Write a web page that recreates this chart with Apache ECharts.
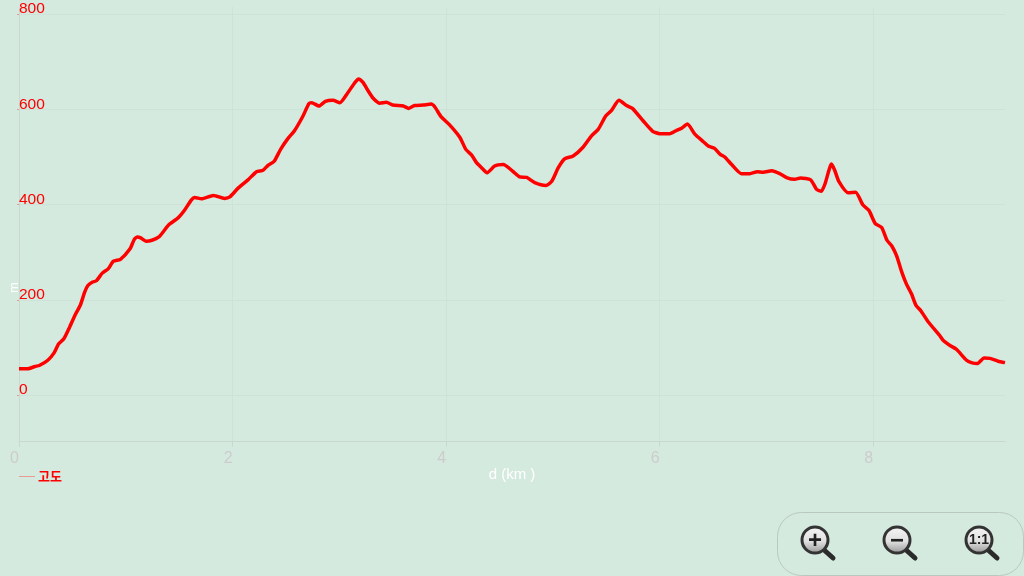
<!DOCTYPE html>
<html>
<head>
<meta charset="utf-8">
<title>고도</title>
<script src="https://cdn.jsdelivr.net/npm/echarts@6/dist/echarts.min.js"></script>
<style>
  html, body { margin: 0; padding: 0; background: #d5eadf; }
  #chart { width: 1024px; height: 576px; }
</style>
</head>
<body>
<div id="chart"></div>
<script>
const distanceKm = [
  0, 0.08, 0.15, 0.19, 0.27, 0.33, 0.37, 0.42, 0.475, 0.53, 0.575, 0.615, 0.645, 0.685, 0.725,
  0.78, 0.835, 0.885, 0.95, 1.04, 1.08, 1.11, 1.14, 1.19, 1.245, 1.31, 1.355, 1.405, 1.49, 1.55,
  1.615, 1.645, 1.71, 1.82, 1.925, 1.975, 2.05, 2.145, 2.225, 2.285, 2.335, 2.39, 2.45, 2.52, 2.58,
  2.66, 2.715, 2.74, 2.81, 2.87, 2.94, 3.005, 3.08, 3.145, 3.18, 3.22, 3.27, 3.315, 3.38, 3.44,
  3.5, 3.6, 3.65, 3.705, 3.785, 3.86, 3.895, 3.955, 4.035, 4.13, 4.185, 4.24, 4.285, 4.33, 4.385,
  4.455, 4.535, 4.63, 4.69, 4.755, 4.83, 4.935, 4.99, 5.05, 5.11, 5.19, 5.285, 5.36, 5.425, 5.495,
  5.55, 5.62, 5.69, 5.745, 5.845, 5.935, 6, 6.095, 6.16, 6.21, 6.26, 6.33, 6.41, 6.455, 6.515,
  6.565, 6.61, 6.675, 6.765, 6.845, 6.915, 6.97, 7.05, 7.125, 7.195, 7.265, 7.32, 7.415, 7.47, 7.515,
  7.55, 7.61, 7.64, 7.68, 7.765, 7.835, 7.905, 7.96, 8.02, 8.08, 8.13, 8.175, 8.22, 8.27, 8.31,
  8.36, 8.4, 8.45, 8.515, 8.62, 8.655, 8.72, 8.78, 8.875, 8.92, 8.975, 9.04, 9.095, 9.17, 9.235
]
const elevationM = [
  55, 55, 60, 62, 73, 89, 107, 118, 143, 170, 189, 216, 230, 237, 240,
  256, 265, 281, 285, 307, 327, 332, 330, 323, 325, 332, 344, 358, 372, 388,
  410, 415, 412, 419, 413, 416, 434, 452, 469, 472, 483, 491, 516, 539, 555,
  586, 612, 614, 607, 617, 619, 614, 635, 656, 664, 657, 639, 624, 613, 615,
  609, 607, 602, 608, 609, 611, 605, 584, 567, 541, 516, 504, 488, 478, 467,
  481, 484, 469, 458, 457, 446, 440, 449, 477, 496, 502, 521, 544, 558, 586,
  598, 619, 608, 602, 576, 554, 549, 549, 556, 561, 569, 548, 532, 523, 518,
  506, 500, 484, 465, 465, 469, 468, 471, 465, 456, 453, 456, 452, 432, 428,
  444, 485, 472, 448, 425, 426, 399, 388, 360, 352, 325, 313, 292, 257, 234,
  212, 189, 176, 154, 126, 115, 104, 96, 73, 68, 66, 78, 77, 71, 68
]
const yTicks = [0, 200, 400, 600, 800]
const seriesName = '고도'
const xName = 'd (km )'
const yName = 'm'

const chart = echarts.init(document.getElementById('chart'))

// magnifier button of the zoom panel
const lens = (cx, cy, mark) => [
  { type: 'line', shape: { x1: cx + 8, y1: cy + 9, x2: cx + 18, y2: cy + 18 }, style: { stroke: '#2b2b2b', lineWidth: 5, lineCap: 'round' } },
  {
    type: 'circle',
    shape: { cx, cy, r: 13 },
    style: {
      fill: new echarts.graphic.LinearGradient(0, 0, 0, 1, [
        { offset: 0, color: '#f6f6f6' },
        { offset: 0.55, color: '#e0e0e0' },
        { offset: 1, color: '#8f8f8f' }
      ]),
      stroke: '#333333',
      lineWidth: 3
    }
  },
  {
    type: 'text',
    x: cx,
    y: mark === '1:1' ? cy : cy + 1,
    style: { text: mark, fill: '#222', font: 'bold ' + (mark === '1:1' ? 14 : 24) + 'px "Liberation Sans"', textAlign: 'center', textVerticalAlign: 'middle' }
  }
]

chart.setOption({
  backgroundColor: '#d5eadf',
  animation: false,
  color: ['#ff0000'],
  legend: {
    left: 14,
    top: 465,
    icon: 'rect',
    itemWidth: 16,
    itemHeight: 1,
    itemGap: 4,
    itemStyle: { color: '#e89a95' },
    textStyle: { color: '#ff0000', fontSize: 13, fontWeight: 'bold', fontFamily: '"Noto Sans CJK KR"', padding: [0, 0, 4, -2] },
    data: [seriesName]
  },
  grid: { left: 19, right: 19, top: 7, bottom: 135 },
  xAxis: {
    type: 'value',
    min: 0,
    max: 9.235,
    interval: 2,
    name: xName,
    nameLocation: 'middle',
    nameGap: 26,
    nameMoveOverlap: false,
    nameTextStyle: { color: '#ffffff', fontSize: 15, fontFamily: '"Liberation Sans"' },
    axisLine: { onZero: false, lineStyle: { color: '#c9d9d0', width: 1 } },
    axisTick: { show: true, length: 6, lineStyle: { color: '#c9d9d0' } },
    axisLabel: { color: '#cccccc', fontSize: 16, fontFamily: '"Liberation Sans"', align: 'right', margin: 10, showMaxLabel: false },
    splitLine: { show: true, showMaxLine: false, lineStyle: { color: '#cee3d8', width: 1 } }
  },
  yAxis: {
    type: 'value',
    min: -96.6,
    max: 815,
    axisLine: { show: true, onZero: false, lineStyle: { color: '#c9d9d0', width: 1 } },
    axisTick: { show: true, length: 2, customValues: yTicks, lineStyle: { color: '#e89a95' } },
    axisLabel: {
      inside: true,
      customValues: yTicks,
      color: '#ff0000',
      fontSize: 15.5,
      fontFamily: '"Liberation Sans"',
      verticalAlign: 'bottom',
      margin: 0,
      padding: [0, 0, -3, 0]
    },
    splitLine: { show: true, lineStyle: { color: '#cee3d8', width: 1 } }
  },
  series: [{
    name: seriesName,
    type: 'line',
    symbol: 'none',
    smooth: 0.2,
    lineStyle: { color: '#ff0000', width: 3.5 },
    data: distanceKm.map((d, i) => [d, elevationM[i]])
  }],
  graphic: [
    { type: 'text', x: 8, y: 293, rotation: Math.PI / 2, style: { text: yName, fill: '#ffffff', font: '13px "Liberation Sans"' } },
    { type: 'rect', shape: { x: 777.5, y: 512.5, width: 246, height: 63, r: 24 }, style: { fill: 'rgba(0,0,0,0)', stroke: '#b9c9c0', lineWidth: 1 } },
    ...lens(815, 540, '+'),
    ...lens(897, 540, '−'),
    ...lens(979, 540, '1:1')
  ]
})
</script>
</body>
</html>
